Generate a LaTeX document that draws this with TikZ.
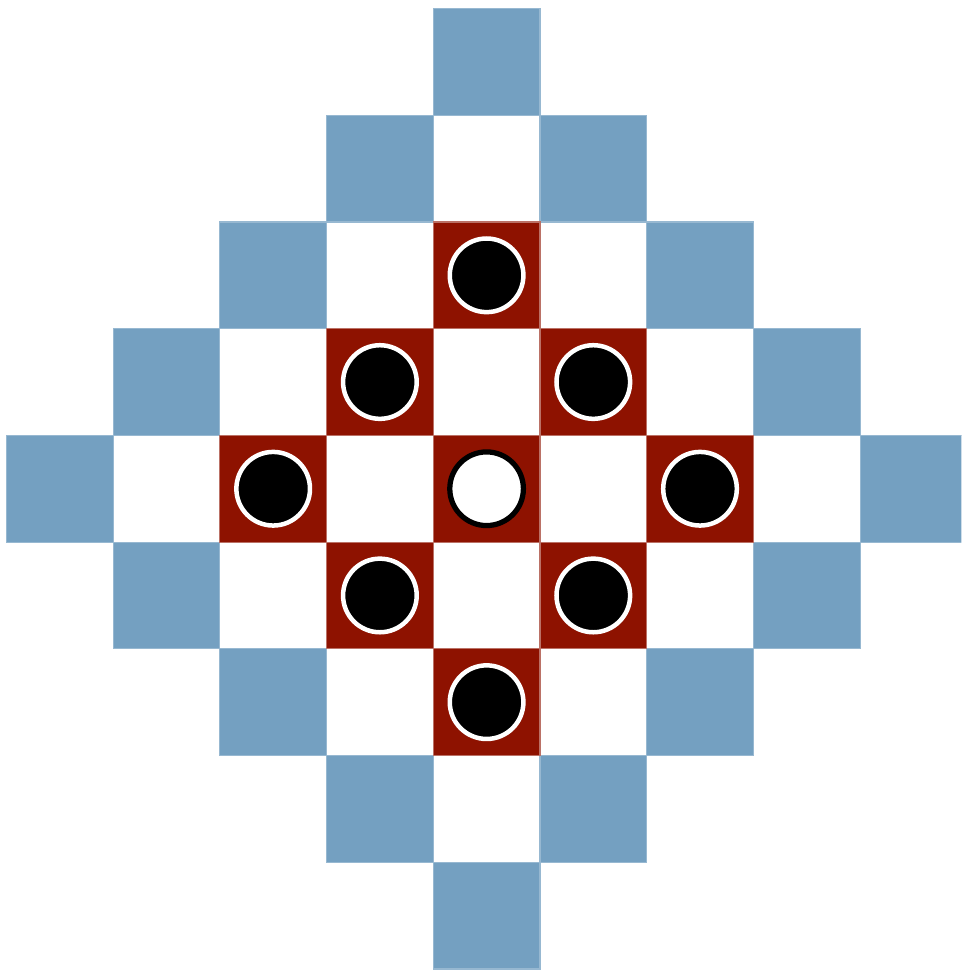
\documentclass[tikz,border=0pt]{standalone}
\usepackage{xcolor}
\usepackage{tikz}
\usetikzlibrary{calc}
\definecolor{tbBlue}{HTML}{74A0C1}
\definecolor{tbRed}{HTML}{8E1200}

\begin{document}
\begin{tikzpicture}[
  borde/.style={fill=tbBlue, draw=tbBlue!75!white, line width=0.3pt},
  casilla/.style={fill=tbRed, draw=tbRed!60!white, line width=0.3pt},
  ficha/.style={circle, fill=black, draw=white, line width=1.2pt,
                minimum size=0.69cm, inner sep=0pt},
  vacia/.style={circle, fill=white, draw=black, line width=1.4pt,
                minimum size=0.69cm, inner sep=0pt}
]
\useasboundingbox (-4.56,-4.51) rectangle (4.45,4.58);
\fill[white] (-4.56,-4.51) rectangle (4.45,4.58);
\clip (-4.56,-4.51) rectangle (4.45,4.58);

% borde del rombo
\foreach \x/\y in {0/4,1/3,2/2,3/1,4/0,3/-1,2/-2,1/-3,0/-4,-1/-3,-2/-2,-3/-1,-4/0,-3/1,-2/2,-1/3}
  \draw[borde] (\x-0.5,\y-0.5) rectangle (\x+0.5,\y+0.5);

% casillas rojas
\foreach \x/\y in {0/2,1/1,2/0,1/-1,0/-2,-1/-1,-2/0,-1/1,0/0}
  \draw[casilla] (\x-0.5,\y-0.5) rectangle (\x+0.5,\y+0.5);

% fichas
\foreach \x/\y [count=\k] in {0/2,1/1,2/0,1/-1,0/-2,-1/-1,-2/0,-1/1}
  \node[ficha] (ficha\k) at (\x,\y) {};
\node[vacia] (centro) at (0,0) {};

\end{tikzpicture}
\end{document}
